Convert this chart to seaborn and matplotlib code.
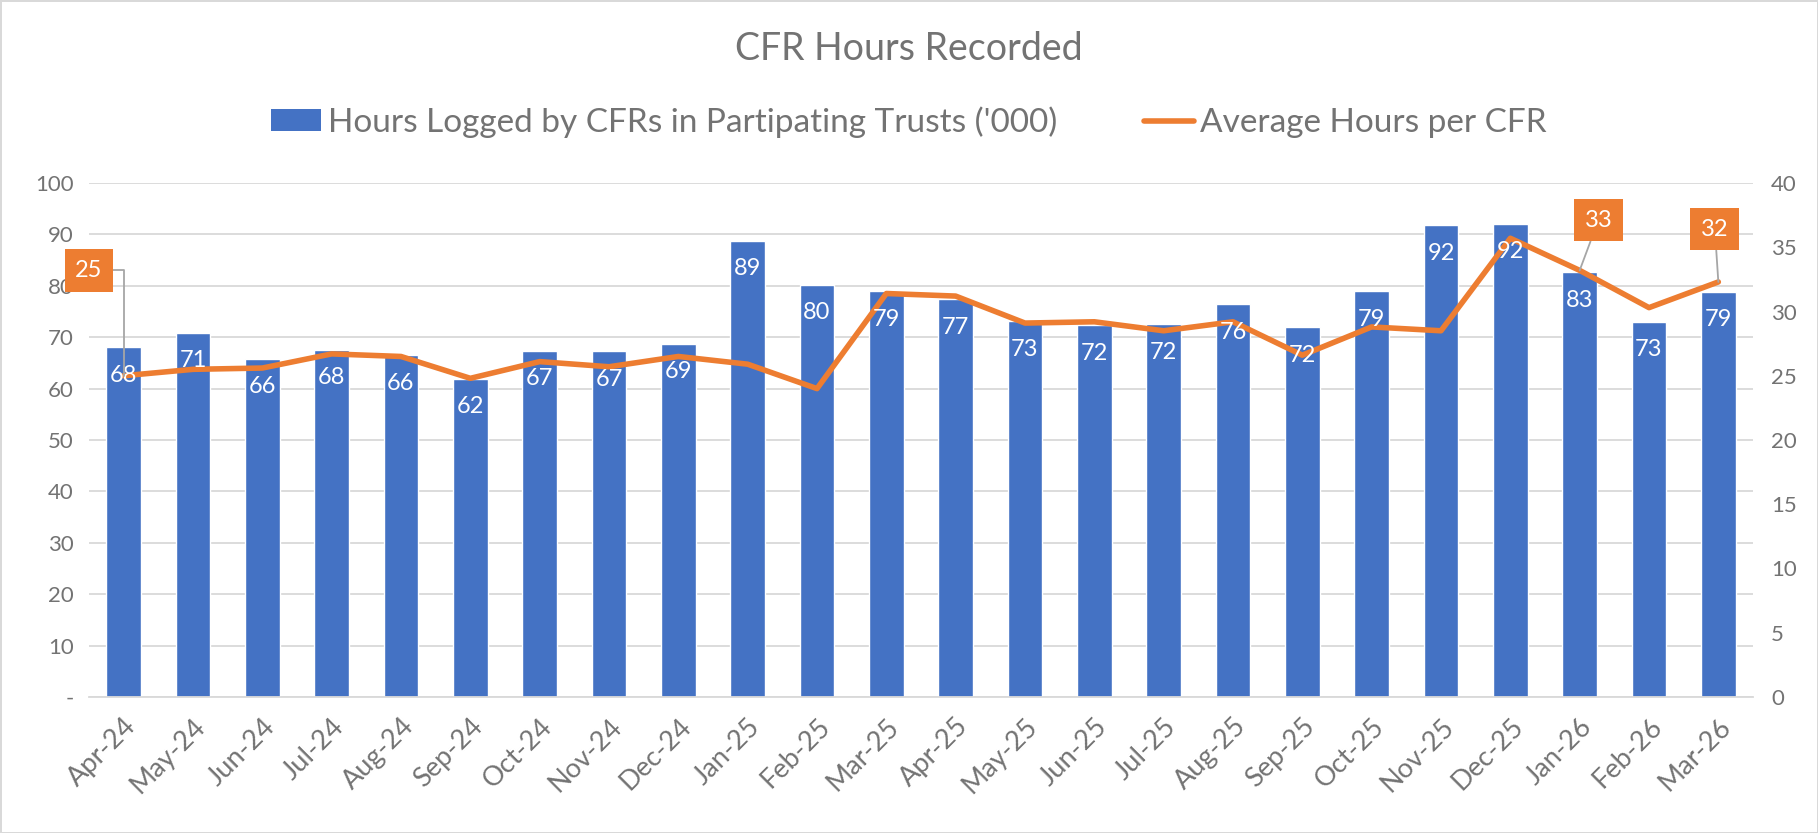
import matplotlib
matplotlib.use("Agg")
import matplotlib.pyplot as plt
import matplotlib.ticker as mticker
import seaborn as sns
import pandas as pd
import numpy as np

months = ["Apr-24", "May-24", "Jun-24", "Jul-24", "Aug-24", "Sep-24", "Oct-24", "Nov-24",
          "Dec-24", "Jan-25", "Feb-25", "Mar-25", "Apr-25", "May-25", "Jun-25", "Jul-25",
          "Aug-25", "Sep-25", "Oct-25", "Nov-25", "Dec-25", "Jan-26", "Feb-26", "Mar-26"]
hours_logged = [68.0, 70.9, 65.8, 67.6, 66.5, 61.9, 67.4, 67.3, 68.7, 88.8, 80.2, 78.9,
                77.4, 73.1, 72.3, 72.5, 76.4, 71.9, 78.9, 91.8, 92.1, 82.6, 73.0, 78.8]
avg_hours = [25.0, 25.5, 25.6, 26.7, 26.5, 24.8, 26.1, 25.7, 26.5, 25.9, 24.0, 31.4,
             31.2, 29.1, 29.2, 28.5, 29.2, 26.6, 28.8, 28.5, 35.7, 33.2, 30.3, 32.3]
# line points that carry a boxed label: (index, box x, box y on right axis)
line_labels = [(0, -0.5, 33.2), (21, 21.27, 37.1), (23, 22.95, 36.4)]

BLUE = "#4472C4"
ORANGE = "#ED7D31"
GREY = "#737373"
GRID = "#D9D9D9"

sns.set_style("white")
plt.rcParams['font.family'] = ['Lato', 'DejaVu Sans']

df = pd.DataFrame({'month': months, 'hours': hours_logged, 'avg': avg_hours,
                   'idx': np.arange(len(months))})

fig = plt.figure(figsize=(18.18, 8.33), dpi=100)
fig.patch.set_edgecolor(GRID)
fig.patch.set_linewidth(2)
ax = fig.add_axes([89 / 1818, 1 - 697 / 833, (1753 - 89) / 1818, (697 - 183) / 833])

sns.barplot(data=df, x='month', y='hours', color=BLUE, width=0.5, saturation=1,
            ax=ax, zorder=2)
ax.set_ylim(0, 100)
ax.set_xlim(-0.5, len(months) - 0.5)
ax.set_yticks(range(0, 101, 10))
ax.yaxis.set_major_formatter(mticker.FuncFormatter(lambda v, p: "-" if v == 0 else f"{v:.0f}"))
ax.grid(axis='y', color=GRID, lw=1.3, zorder=0)
ax.set_axisbelow(True)
ax.set(xlabel='', ylabel='')
for s in ['left', 'right', 'top']:
    ax.spines[s].set_visible(False)
ax.spines['bottom'].set_color(GRID)
ax.spines['bottom'].set_linewidth(1.3)
ax.tick_params(axis='y', length=0, pad=11, labelsize=16, labelcolor=GREY)
ax.tick_params(axis='x', which='major', length=0, pad=12, labelsize=19.5, labelcolor=GREY)
ax.set_xticks(np.arange(-0.5, len(months), 1), minor=True)
ax.tick_params(axis='x', which='minor', length=7, width=1.3, color=GRID)
for lbl in ax.get_xticklabels():
    lbl.set_rotation(45)
    lbl.set_ha('right')
    lbl.set_va('top')
    lbl.set_rotation_mode('anchor')

ax2 = ax.twinx()
sns.lineplot(data=df, x='idx', y='avg', color=ORANGE, lw=4, ax=ax2, zorder=3)
ax2.set_ylim(0, 40)
ax2.set_yticks(range(0, 41, 5))
ax2.set(xlabel='', ylabel='')
for s in ax2.spines.values():
    s.set_visible(False)
ax2.tick_params(axis='y', length=0, pad=13, labelsize=16, labelcolor=GREY)

# bar value labels (drawn on top of the line, like Excel)
for i, v in enumerate(hours_logged):
    ax2.annotate(f"{v:.0f}", xy=(i, v), xycoords=ax.transData, xytext=(0, -28),
                 textcoords='offset pixels', ha='center', va='center',
                 color='white', fontsize=17, zorder=5)

# boxed labels on selected line points
for i, bx, by in line_labels:
    conn = "angle,angleA=0,angleB=90,rad=0" if i == 0 else "arc3"
    ax2.annotate(f"{avg_hours[i]:.0f}", xy=(i, avg_hours[i]), xytext=(bx, by),
                 ha='center', va='center', color='white', fontsize=17, zorder=6,
                 bbox=dict(boxstyle='square,pad=0.45', fc=ORANGE, ec='none'),
                 arrowprops=dict(arrowstyle='-', color='#A6A6A6', lw=1.3,
                                 connectionstyle=conn, shrinkA=0, shrinkB=0),
                 annotation_clip=False)

fig.text(0.5, 1 - 49 / 833, "CFR Hours Recorded", ha='center', va='center',
         fontsize=27, color=GREY)

handles = [plt.Rectangle((0, 0), 1, 1, fc=BLUE, ec='none'),
           plt.Line2D([0], [0], color=ORANGE, lw=4)]
fig.legend(handles, ["Hours Logged by CFRs in Partipating Trusts ('000)", "Average Hours per CFR"],
           loc='center', bbox_to_anchor=(0.5, 1 - 122 / 833), ncol=2, frameon=False,
           fontsize=24, labelcolor=GREY, handlelength=1.5, handleheight=0.6,
           handletextpad=0.2, columnspacing=2.6)

fig.savefig("out.png", dpi=100, edgecolor=GRID)
